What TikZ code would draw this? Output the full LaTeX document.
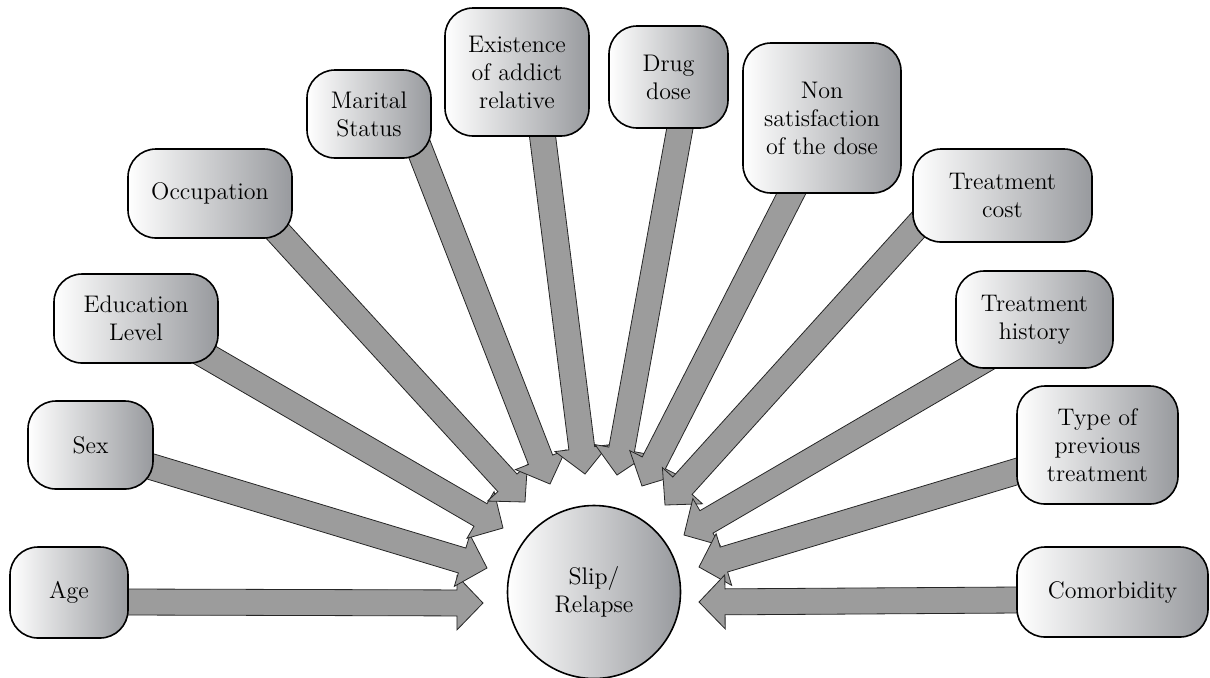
\documentclass[tikz,border=0pt]{standalone}
\usepackage{tikz}
\usetikzlibrary{calc,backgrounds}
\definecolor{boxgray}{RGB}{152,154,158}
\definecolor{flowgray}{RGB}{156,156,156}

\begin{document}
\begin{tikzpicture}[
  x=0.5pt, y=-0.5pt,
  box/.style={draw,line width=0.8pt,rounded corners=14pt,left color=white,
    right color=boxgray,align=center,inner sep=0pt,
    font=\fontsize{12}{14}\selectfont},
  dims/.style 2 args={minimum width=#1pt,minimum height=#2pt},
  flow/.style={fill=flowgray,draw=black!85,line width=0.4pt,line join=miter},
]
  \useasboundingbox (0,0) rectangle (1210,677);
  % centre
  \node[box,circle,dims={86.5}{86.5}] (slip) at (594,592) {Slip/\\Relapse};
  % factors, left side
  \node[box,dims={59}{45.5}] (age) at (69,592.5) {Age};
  \node[box,dims={62.5}{44}] (sex) at (90.5,445) {Sex};
  \node[box,dims={82}{44.5}] (edu) at (136,318.5) {Education\\Level};
  \node[box,dims={82}{44.5}] (occ) at (210,193.5) {Occupation};
  \node[box,dims={62}{44}] (mar) at (369,114) {Marital\\Status};
  \node[box,dims={72}{64}] (exi) at (517,72) {Existence\\of addict\\relative};
  % factors, right side
  \node[box,dims={59.5}{51}] (drug) at (668.5,77) {Drug\\dose};
  \node[box,dims={79}{75}] (nons) at (822,118)
    {Non\\satisfaction\\of the dose};
  \node[box,dims={89.5}{46.5}] (cost) at (1002.5,195.5) {Treatment\\cost};
  \node[box,dims={78.5}{48.5}] (hist) at (1034.5,319.5)
    {Treatment\\history};
  \node[box,dims={80.5}{59}] (type) at (1097.5,445)
    {Type of\\previous\\treatment};
  \node[box,dims={95.5}{45}] (como) at (1112.5,592) {Comorbidity};
  % block arrows behind the boxes
  \begin{scope}[on background layer]
    \foreach \src/\dx/\dy/\tx/\ty in {age/59/9.5/-111/11,
        sex/58.5/21/-107/-24, edu/68/36/-91/-64, occ/68/38.5/-69/-90,
        mar/50/34/-44/-108, exi/25.5/64/-9/-118, drug/12/48/23/-117,
        nons/-31/76/48/-106, cost/-84.5/29.5/71/-87,
        hist/-57.5/44.5/90/-57, type/-82.5/27/105/-25,
        como/-95/8/105/10}{
      \coordinate (\src-tip) at ($(slip)+(\tx,\ty)$);
      \coordinate (\src-exit) at ($(\src)+(\dx,\dy)$);
      \coordinate (\src-tail) at ($(\src-exit)!-12pt!(\src-tip)$);
      \coordinate (\src-neck) at ($(\src-tip)!13pt!(\src-tail)$);
      \draw[flow] ($(\src-tail)!6.5pt!90:(\src-tip)$)
        -- ($(\src-neck)!6.5pt!-90:(\src-tail)$)
        -- ($(\src-neck)!13.5pt!-90:(\src-tail)$) -- (\src-tip)
        -- ($(\src-neck)!13.5pt!90:(\src-tail)$)
        -- ($(\src-neck)!6.5pt!90:(\src-tail)$)
        -- ($(\src-tail)!6.5pt!-90:(\src-tip)$) -- cycle;
    }
  \end{scope}
\end{tikzpicture}
\end{document}
